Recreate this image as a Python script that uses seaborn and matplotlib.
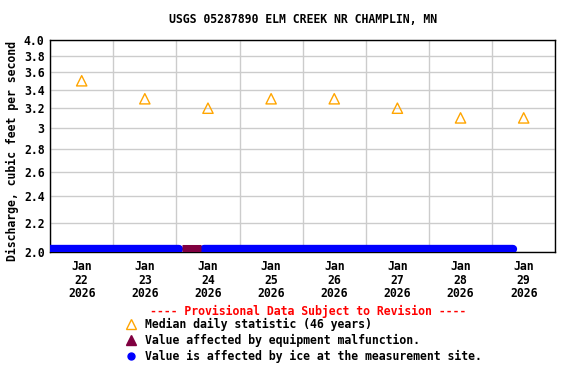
import numpy as np
import pandas as pd
import matplotlib
matplotlib.use('Agg')
import matplotlib.pyplot as plt
import matplotlib.dates as mdates
from matplotlib.lines import Line2D
import seaborn as sns

# median daily statistic (noon of each day)
median_days = ['2026-01-22', '2026-01-23', '2026-01-24', '2026-01-25',
               '2026-01-26', '2026-01-27', '2026-01-28', '2026-01-29']
median_values = [3.5, 3.3, 3.2, 3.3, 3.3, 3.2, 3.1, 3.1]

# ice-affected segments
ice_start = ['2026-01-22 00:00', '2026-01-24 10:30']
ice_end = ['2026-01-24 01:00', '2026-01-29 08:00']
ice_value = 2.02

# equipment malfunction segment
malf_start = ['2026-01-24 02:15']
malf_end = ['2026-01-24 09:15']
malf_value = 2.02

y_ticks = [2.0, 2.2, 2.4, 2.6, 2.8, 3.0, 3.2, 3.4, 3.6, 3.8, 4.0]
y_labels = ['2.0', '2.2', '2.4', '2.6', '2.8', '3', '3.2', '3.4', '3.6', '3.8', '4.0']
x_labels = ['Jan\n22\n2026', 'Jan\n23\n2026', 'Jan\n24\n2026', 'Jan\n25\n2026',
            'Jan\n26\n2026', 'Jan\n27\n2026', 'Jan\n28\n2026', 'Jan\n29\n2026']

title = 'USGS 05287890 ELM CREEK NR CHAMPLIN, MN'
ylabel = 'Discharge, cubic feet per second'

sns.set_style('white')
plt.rcParams['font.family'] = ['DejaVu Sans Mono']
plt.rcParams['font.weight'] = 'bold'
plt.rcParams['text.color'] = 'black'
plt.rcParams['xtick.color'] = 'black'
plt.rcParams['ytick.color'] = 'black'
plt.rcParams['axes.labelcolor'] = 'black'

FS = 8.3

median_df = pd.DataFrame({
    'time': pd.to_datetime(median_days) + pd.Timedelta(hours=12),
    'value': median_values,
})

def segments(starts, ends, val):
    rows = []
    for i, (s, e) in enumerate(zip(starts, ends)):
        rows.append({'time': pd.Timestamp(s), 'value': val, 'seg': i})
        rows.append({'time': pd.Timestamp(e), 'value': val, 'seg': i})
    return pd.DataFrame(rows)

ice_df = segments(ice_start, ice_end, ice_value)
malf_df = segments(malf_start, malf_end, malf_value)

fig = plt.figure(figsize=(5.76, 3.84), dpi=100)
ax = fig.add_axes([0.087, 0.344, 0.877, 0.552])

sns.lineplot(data=ice_df, x='time', y='value', units='seg', estimator=None,
             color='#0000ff', lw=6.0, solid_capstyle='round', ax=ax,
             legend=False, zorder=3)
sns.lineplot(data=malf_df, x='time', y='value', units='seg', estimator=None,
             color='#800040', lw=6.5, solid_capstyle='butt', ax=ax,
             legend=False, zorder=4)
sns.scatterplot(data=median_df, x='time', y='value', marker='^', s=55,
                facecolor='none', edgecolor='#ffa500', linewidth=1.0, ax=ax,
                zorder=5)

ax.set_yscale('log')
ax.set_ylim(2.0, 4.0)
ax.yaxis.set_minor_locator(matplotlib.ticker.NullLocator())
ax.set_yticks(y_ticks)
ax.set_yticklabels(y_labels)

x0 = pd.Timestamp('2026-01-22')
ax.set_xlim(x0, x0 + pd.Timedelta(days=8))
ax.set_xticks(median_df['time'].tolist())
ax.set_xticklabels(x_labels)
ax.xaxis.set_minor_locator(mdates.DayLocator())

ax.grid(False)
ax.grid(True, which='minor', axis='x', color='#cccccc', lw=1)
ax.grid(True, which='major', axis='y', color='#cccccc', lw=1)
ax.tick_params(axis='x', which='both', length=0, pad=6, labelsize=FS)
ax.tick_params(axis='y', length=0, pad=4, labelsize=FS)
for lab in ax.get_xticklabels():
    lab.set_fontweight('bold')
    lab.set_linespacing(1.03)
for lab in ax.get_yticklabels():
    lab.set_fontweight('bold')
for sp in ax.spines.values():
    sp.set_color('black')
    sp.set_linewidth(1)

ax.set_xlabel('')
ax.set_ylabel(ylabel, fontsize=FS, fontweight='bold')
ax.yaxis.set_label_coords(-0.062, 0.476)
ax.set_title(title, fontsize=FS, fontweight='bold', pad=12)

fig.text(0.535, 0.19, '---- Provisional Data Subject to Revision ----',
         color='red', ha='center', va='center', fontsize=FS, fontweight='bold')

handles = [
    Line2D([], [], ls='none', marker='^', markersize=7, markerfacecolor='none',
           markeredgecolor='#ffa500', markeredgewidth=1.0),
    Line2D([], [], ls='none', marker='^', markersize=7, color='#800040'),
    Line2D([], [], ls='none', marker='o', markersize=5, color='#0000ff'),
]
labels = ['Median daily statistic (46 years)',
          'Value affected by equipment malfunction.',
          'Value is affected by ice at the measurement site.']
fig.legend(handles, labels, loc='upper left', bbox_to_anchor=(0.217, 0.172),
           frameon=False, handlelength=1.0, handletextpad=0.75,
           labelspacing=0.25, borderpad=0, borderaxespad=0,
           prop={'weight': 'bold', 'size': FS})

fig.savefig('out.png', dpi=100)
